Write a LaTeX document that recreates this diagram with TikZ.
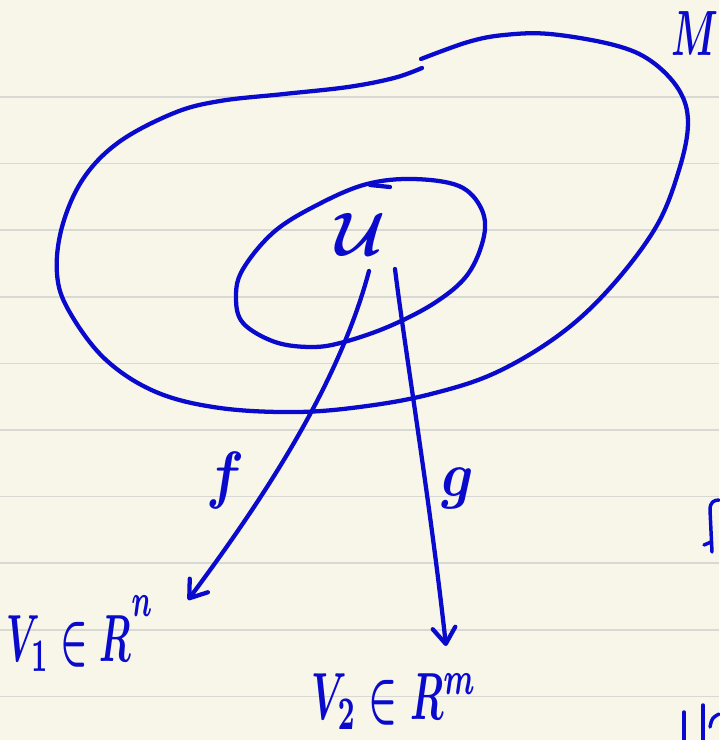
\documentclass[tikz,border=0pt]{standalone}
\usetikzlibrary{arrows.meta}
\definecolor{ink}{RGB}{10,10,205}
\definecolor{paper}{RGB}{248,246,233}
\definecolor{ruleclr}{RGB}{216,216,212}
\begin{document}
\begin{tikzpicture}[x=0.75pt,y=-0.75pt,
  pen/.style={draw=ink, line width=3.2pt, line cap=round, line join=round},
  thinpen/.style={draw=ink, line width=2.6pt, line cap=round, line join=round},
  lbl/.style={text=ink, inner sep=0pt, font=\boldmath},
  tipped/.style={-{Straight Barb[length=12pt,width=17pt,round]}},
  ruling/.style={draw=ruleclr, line width=1pt}]
\fill[paper] (0,0) rectangle (719,740);
\useasboundingbox (0,0) rectangle (719,740);
% ruled lines of the paper
\foreach \yy in {97,163.5,230,297,363.5,430,496.5,563,630,696.5}
  \draw[ruling] (0,\yy) -- (719,\yy);
% outer region M
\draw[pen] plot[smooth, tension=0.6] coordinates {
  (422,68) (394,78) (348,87) (284,94) (220,101) (174,113) (119,142) (83,179)
  (62,227) (57,274) (69,311) (105,359) (156,392) (220,408) (298,412) (367,406)
  (431,394) (495,373) (559,335) (610,288) (656,227) (679,170) (688,123) (679,90)
  (651,61) (614,45) (550,34) (504,35) (468,42) (421,59)};
% inner region U
\draw[pen] plot[smooth cycle, tension=0.6] coordinates {
  (367,184) (413,179) (459,186) (481,208) (484,236) (468,274) (436,302) (390,326)
  (344,342) (312,347) (275,342) (243,323) (236,297) (243,269) (275,231) (321,203)};
\draw[pen] (370,185) -- (390,187);
% labels
\node[lbl, xscale=2.8, yscale=4.8] (M) at (695,34) {$M$};
\node[lbl, scale=4.6] (U) at (361,234) {$\mathcal{U}$};
\node[lbl, xscale=4.2, yscale=4.8] (f) at (225,480) {$f$};
\node[lbl, xscale=4.2, yscale=4.8] (g) at (458,488) {$g$};
\node[lbl, anchor=base west, xscale=2.7, yscale=5] (V1) at (6,661)
  {$V_1\in R^{\raisebox{3pt}{$\scriptstyle n$}}$};
\node[lbl, anchor=base west, xscale=2.85, yscale=5] (V2) at (311,719) {$V_2\in R^m$};
% connectors
\coordinate (fs) at (369,271);
\coordinate (fe) at (188,600);
\coordinate (gs) at (395,269);
\coordinate (ge) at (446,646);
\draw[pen, tipped] (fs) .. controls (340,380) and (270,490) .. (fe);
\draw[pen, tipped] (gs) .. controls (405,350) and (430,500) .. (ge);
% partial marks at the right edge
\draw[thinpen] (712,552) -- (710,510) .. controls (710,502) and (714,500) .. (719,500);
\draw[thinpen] (704,545) -- (711,542);
\draw[thinpen] (684,712) -- (684,740);
\draw[thinpen] (703,705) -- (703,740);
\draw[thinpen] (710,727) .. controls (712,718) .. (719,714);
\end{tikzpicture}
\end{document}
